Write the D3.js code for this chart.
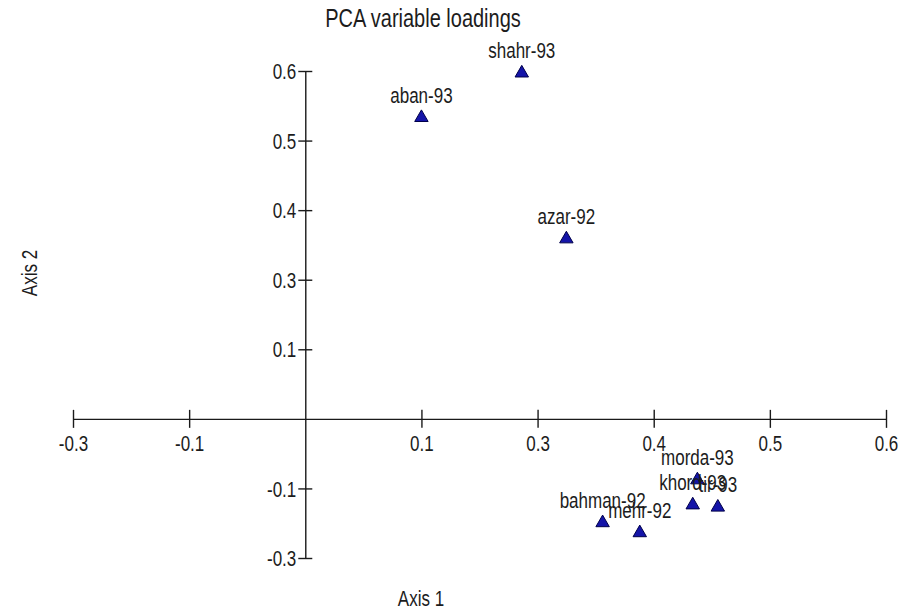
<!DOCTYPE html>
<html>
<head>
<meta charset="utf-8">
<script src="https://cdn.jsdelivr.net/npm/d3@7"></script>
<style>
  body { margin: 0; background: #fff; }
  svg { display: block; }
  text { font-family: "Liberation Sans", Arial, sans-serif; fill: #1c1c1c; }
</style>
</head>
<body>
<svg id="chart" width="904" height="612"></svg>
<script>
// PCA variable loadings on the first two axes
const variables     = ["shahr-93", "aban-93", "azar-92", "bahman-92", "mehr-92", "morda-93", "khord-93", "tir-93"];
const axis1Loadings = [0.233, 0.125, 0.281, 0.320, 0.360, 0.422, 0.417, 0.444];
const axis2Loadings = [0.623, 0.543, 0.325, -0.185, -0.203, -0.108, -0.153, -0.157];

// Tick positions and their printed (one-decimal) labels
const xTickValues = [-0.25, -0.125, 0.125, 0.25, 0.375, 0.5, 0.625];
const xTickLabels = ["-0.3", "-0.1", "0.1", "0.3", "0.4", "0.5", "0.6"];
const yTickValues = [-0.25, -0.125, 0.125, 0.25, 0.375, 0.5, 0.625];
const yTickLabels = ["-0.3", "-0.1", "0.1", "0.3", "0.4", "0.5", "0.6"];

const STRETCH = 1.25;         // tall, narrow lettering
const svg = d3.select("#chart");

const x = d3.scaleLinear().domain([-0.25, 0.625]).range([73, 886]);
const y = d3.scaleLinear().domain([-0.25, 0.625]).range([558, 71]);

// Horizontal axis through y = 0
const gx = svg.append("g")
  .attr("transform", `translate(0,${y(0)})`)
  .call(d3.axisBottom(x)
    .tickValues(xTickValues)
    .tickFormat((d, i) => xTickLabels[i])
    .tickSizeOuter(0));

// Vertical axis through x = 0
const gy = svg.append("g")
  .attr("transform", `translate(${x(0)},0)`)
  .call(d3.axisLeft(y)
    .tickValues(yTickValues)
    .tickFormat((d, i) => yTickLabels[i])
    .tickSizeOuter(0));

[gx, gy].forEach(g => {
  g.attr("font-family", null).attr("font-size", null);
  g.select(".domain").attr("stroke", "#1a1a1a").attr("stroke-width", 1.4);
  g.selectAll(".tick line").attr("stroke", "#1a1a1a").attr("stroke-width", 1.4);
  g.selectAll(".tick text").attr("font-size", 17).attr("fill", "#222");
});

// ticks cross the axis line
gx.selectAll(".tick line").attr("y1", -9).attr("y2", 9);
gx.selectAll(".tick text")
  .attr("y", 0).attr("dy", 0)
  .attr("transform", `translate(0,32) scale(1,${STRETCH})`);

gy.selectAll(".tick line").attr("x1", -7).attr("x2", 7);
gy.selectAll(".tick text")
  .attr("x", 0).attr("dy", "0.36em")
  .attr("text-anchor", "end")
  .attr("transform", `translate(-9,0) scale(1,${STRETCH})`);

// Markers
const tri = d3.symbol().type(d3.symbolTriangle).size(78);
const pts = variables.map((name, i) => ({ name, a1: axis1Loadings[i], a2: axis2Loadings[i] }));

svg.append("g").selectAll("path")
  .data(pts)
  .join("path")
  .attr("d", tri)
  .attr("transform", d => `translate(${x(d.a1)},${y(d.a2) + 1})`)
  .attr("fill", "#1414a8")
  .attr("stroke", "#00004a")
  .attr("stroke-width", 1);

svg.append("g").selectAll("text")
  .data(pts)
  .join("text")
  .attr("text-anchor", "middle")
  .attr("font-size", 17)
  .attr("transform", d => `translate(${x(d.a1)},${y(d.a2) - 14}) scale(1,${STRETCH})`)
  .text(d => d.name);

// Titles
svg.append("text")
  .attr("text-anchor", "middle")
  .attr("font-size", 20)
  .attr("transform", `translate(423,27) scale(1,${STRETCH})`)
  .text("PCA variable loadings");

svg.append("text")
  .attr("text-anchor", "middle")
  .attr("font-size", 17)
  .attr("transform", `translate(421,606) scale(1,${STRETCH})`)
  .text("Axis 1");

svg.append("text")
  .attr("text-anchor", "middle")
  .attr("font-size", 17)
  .attr("transform", `translate(37,273) rotate(-90) scale(1,${STRETCH})`)
  .text("Axis 2");
</script>
</body>
</html>
